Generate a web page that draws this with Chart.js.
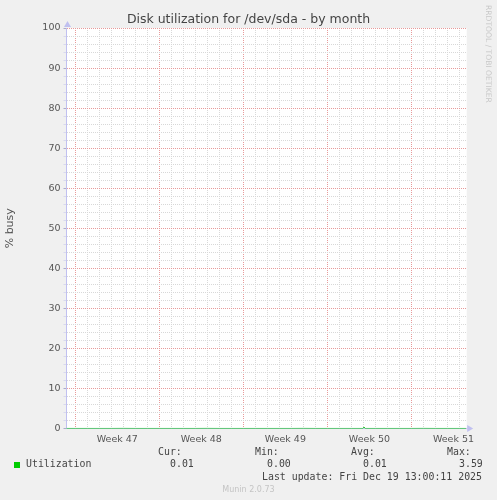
<!DOCTYPE html>
<html><head><meta charset="utf-8">
<script src="https://cdn.jsdelivr.net/npm/chart.js@4"></script>
<style>
html,body{margin:0;padding:0;background:#f0f0f0;}
#wrap{position:relative;width:497px;height:500px;overflow:hidden;background:#f0f0f0;}
canvas{position:absolute;left:0;top:0;}
.t{position:absolute;white-space:pre;line-height:12px;}
.mono{font-family:'DejaVu Sans Mono',monospace;font-size:9.9px;color:#444;}
#title{left:0;width:497px;text-align:center;top:12px;font-family:'DejaVu Sans',sans-serif;font-size:12.5px;color:#444;line-height:14px;}
#rrd{font-family:'DejaVu Sans',sans-serif;font-size:7.6px;color:#c8c8c8;left:494px;top:5px;transform-origin:0 0;transform:rotate(90deg);}
#munin{font-family:'DejaVu Sans',sans-serif;font-size:8px;color:#c4c4c4;left:0;width:497px;text-align:center;top:484px;}
#sq{position:absolute;left:14px;top:462px;width:6px;height:6px;background:#00cc00;}
</style></head><body>
<div id="wrap">
<canvas id="c" width="497" height="500"></canvas>
<div id="title" class="t">Disk utilization for /dev/sda - by month</div>
<div id="rrd" class="t">RRDTOOL / TOBI OETIKER</div>
<div id="sq"></div>
<div id="legend"></div>
<div id="munin" class="t">Munin 2.0.73</div>
</div>
<script>
// ---- data (x in days since Mon 17 Nov 2025 00:00) ----
const weekStartDays = [0, 7, 14, 21, 28];
const weekLabels = ['Week 47', 'Week 48', 'Week 49', 'Week 50', 'Week 51'];
const sampleDays = [-1, 0, 1, 2, 3, 4, 5, 6, 7, 8, 9, 10, 11, 12, 13, 14, 15, 16, 17, 18, 19, 20, 21, 22, 23, 23.95, 24.05, 24.15, 25, 26, 27, 28, 29, 30, 31, 32, 32.54];
const utilization = [0.01, 0.01, 0.01, 0.01, 0.01, 0.02, 0.01, 0.01, 0.01, 0.01, 0.01, 0.01, 0.02, 0.01, 0.01, 0.01, 0.01, 0.01, 0.01, 0.01, 0.02, 0.01, 0.01, 0.01, 0.01, 0.01, 0.35, 0.01, 0.01, 0.01, 0.01, 0.01, 0.02, 0.01, 0.01, 0.01, 0.01];
const seriesName = 'Utilization';
const statLabels = ['Cur:', 'Min:', 'Avg:', 'Max:'];
const statValues = ['0.01', '0.00', '0.01', '3.59'];
const lastUpdate = 'Last update: Fri Dec 19 13:00:11 2025';
const yMin = 0, yMax = 100, yMinorStep = 2, yMajorStep = 10;
const xMin = -0.73, xMax = 32.6;

// ---- legend text (HTML) ----
const legend = document.getElementById('legend');
function addText(txt, x, y) {
  const d = document.createElement('div');
  d.className = 't mono'; d.textContent = txt;
  d.style.left = x + 'px'; d.style.top = y + 'px';
  legend.appendChild(d);
}
addText(seriesName, 26, 458);
const colX = [158, 255, 351, 447];
statLabels.forEach((s, i) => addText(s, colX[i], 446));
statValues.forEach((s, i) => addText(s, colX[i] + 12, 458));
addText(lastUpdate, 262, 471);

// ---- chart ----
Chart.defaults.font.family = "'DejaVu Sans', sans-serif";
const MINOR = '#d8d8d8', MAJOR = '#e89a9a', AXIS = '#c0c0f0';
const halfTicks = weekStartDays.map(d => d + 3.5);

const bgPlugin = {
  id: 'bg',
  beforeDraw(chart) {
    const { ctx, chartArea: a } = chart;
    ctx.save();
    ctx.fillStyle = '#f0f0f0';
    ctx.fillRect(0, 0, chart.width, chart.height);
    ctx.fillStyle = '#ffffff';
    ctx.fillRect(a.left, a.top, a.right - a.left, a.bottom - a.top);
    ctx.restore();
  },
  afterDraw(chart) {
    const { ctx, chartArea: a } = chart;
    ctx.save();
    ctx.fillStyle = AXIS;
    const lx = Math.round(a.left) + 0.5;
    ctx.beginPath();
    ctx.moveTo(lx - 3.5, a.top - 1); ctx.lineTo(lx + 3.5, a.top - 1); ctx.lineTo(lx, a.top - 7); ctx.closePath(); ctx.fill();
    const by = Math.round(a.bottom) - 0.5;
    ctx.beginPath();
    ctx.moveTo(a.right + 0.5, by - 3.5); ctx.lineTo(a.right + 0.5, by + 3.5); ctx.lineTo(a.right + 6.5, by); ctx.closePath(); ctx.fill();
    ctx.restore();
  }
};

new Chart(document.getElementById('c'), {
  type: 'line',
  data: {
    datasets: [{
      label: seriesName,
      data: sampleDays.map((d, i) => ({ x: d, y: utilization[i] })),
      borderColor: '#00cc00',
      borderWidth: 1,
      pointRadius: 0,
      tension: 0,
      fill: false
    }]
  },
  options: {
    responsive: false,
    animation: false,
    devicePixelRatio: 1,
    layout: { padding: { left: 0, top: 28, right: 30.3, bottom: 51.5 } },
    plugins: { legend: { display: false }, tooltip: { enabled: false }, title: { display: false } },
    scales: {
      x: {
        type: 'linear',
        min: xMin, max: xMax,
        afterBuildTicks(scale) {
          const v = [];
          for (let d = 0; d <= 32; d++) v.push(d);
          halfTicks.forEach(h => v.push(h));
          v.sort((a, b) => a - b);
          scale.ticks = v.map(value => ({ value }));
        },
        afterFit(scale) { scale.height = 20; },
        ticks: {
          autoSkip: false, maxRotation: 0, minRotation: 0, padding: 2,
          color: '#555', font: { size: 9.5 },
          callback(value) {
            const i = halfTicks.indexOf(value);
            return i >= 0 ? weekLabels[i] : '';
          }
        },
        grid: {
          color(ctx) {
            const v = ctx.tick.value;
            if (!Number.isInteger(v)) return 'rgba(0,0,0,0)';
            return weekStartDays.includes(v) ? MAJOR : MINOR;
          },
          lineWidth: 1,
          tickLength: 3,
          tickColor: 'rgba(0,0,0,0)'
        },
        border: { display: true, color: AXIS, width: 1, dash: [1, 1] }
      },
      y: {
        type: 'linear',
        min: yMin, max: yMax,
        afterFit(scale) { scale.width = 66.5; },
        ticks: {
          stepSize: yMinorStep, autoSkip: false, padding: 3,
          color: '#555', font: { size: 9.5 },
          callback(value) { return value % yMajorStep === 0 ? String(value) : ''; }
        },
        grid: {
          color(ctx) { return ctx.tick.value % yMajorStep === 0 ? MAJOR : MINOR; },
          lineWidth: 1,
          tickLength: 3,
          tickColor(ctx) { return ctx.tick.value % yMajorStep === 0 ? '#aaaacc' : '#d8d8ee'; }
        },
        border: { display: true, color: AXIS, width: 1, dash: [1, 1] },
        title: { display: true, text: '% busy', color: '#555', font: { size: 11 }, padding: { top: 4, bottom: 0 } }
      }
    }
  },
  plugins: [bgPlugin]
});
</script>
</body></html>
